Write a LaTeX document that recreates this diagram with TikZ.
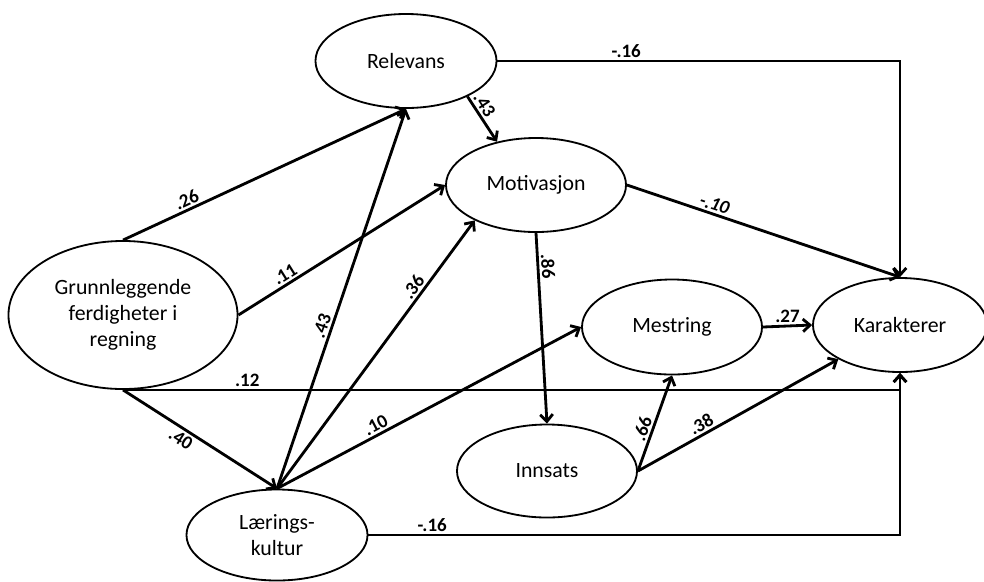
\documentclass[tikz,border=0pt]{standalone}
\usepackage{fontspec}
\setmainfont{Carlito}
\usetikzlibrary{arrows.meta,shapes.geometric}
\tikzset{
  latent/.style={ellipse,draw,line width=1.3pt,inner sep=0pt,align=center,font=\fontsize{15.5}{18.5}\selectfont},
  effect/.style={-{Straight Barb[length=5pt,width=9pt]},line width=2pt},
  coef/.style={font=\fontsize{13.5}{16}\selectfont\bfseries,inner sep=1.5pt}
}

\begin{document}
\begin{tikzpicture}[x=0.025cm,y=-0.025cm]
    \useasboundingbox (0,0) rectangle (984,581);
    \node[latent,minimum width=5.725cm,minimum height=3.7cm] (grunn) at (123,315) {Grunnleggende\\ferdigheter i\\regning};
    \node[latent,minimum width=4.525cm,minimum height=2.35cm] (relevans) at (406,61) {Relevans};
    \node[latent,minimum width=4.5cm,minimum height=2.35cm] (motiv) at (536,185) {Motivasjon};
    \node[latent,minimum width=4.525cm,minimum height=2.275cm] (laering) at (277,535) {Lærings-\\kultur};
    \node[latent,minimum width=4.5cm,minimum height=2.375cm] (mestring) at (672,327) {Mestring};
    \node[latent,minimum width=4.5cm,minimum height=2.325cm] (innsats) at (547,471) {Innsats};
    \node[latent,minimum width=4.35cm,minimum height=2.35cm] (karakter) at (900,325) {Karakterer};
    % paths from grunnleggende ferdigheter
    \draw[effect] (grunn.north) -- (relevans.south) node[coef,pos=0.24,sloped,above] {.26};
    \draw[effect] (grunn.east) -- (motiv.west) node[coef,pos=0.25,sloped,above] {.11};
    \draw[effect] (grunn.south) -- (laering.north) node[coef,pos=0.41,sloped,below] {.40};
    \draw[effect] (grunn.south) -| (karakter.south) node[coef,pos=0.08,above] {.12};
    % paths from laeringskultur
    \draw[effect] (laering.north) -- (relevans.south) node[coef,pos=0.42,sloped,above] {.43};
    \draw[effect] (laering.north) -- (motiv.210) node[coef,pos=0.73,sloped,above] {.36};
    \draw[effect] (laering.north) -- (mestring.west) node[coef,pos=0.34,sloped,above] {.10};
    \draw[effect] (laering.east) -| (karakter.south) node[coef,pos=0.06,above] {-.16};
    % relevans and motivasjon
    \draw[effect] (relevans.east) -| (karakter.north) node[coef,pos=0.16,above] {-.16};
    \draw[effect] (relevans.-30) -- (motiv.132) node[coef,pos=0.3,sloped,above] {.43};
    \draw[effect] (motiv.east) -- (karakter.north) node[coef,pos=0.31,sloped,above] {\itshape -.10};
    \draw[effect] (motiv.south) -- (innsats.north) node[coef,pos=0.18,sloped,above] {.86};
    % mestring and innsats
    \draw[effect] (mestring.east) -- (karakter.west) node[coef,midway,above] {.27};
    \draw[effect] (innsats.east) -- (mestring.south) node[coef,pos=0.41,sloped,above] {.66};
    \draw[effect] (innsats.east) -- (karakter.209) node[coef,pos=0.34,sloped,above] {.38};
\end{tikzpicture}
\end{document}
